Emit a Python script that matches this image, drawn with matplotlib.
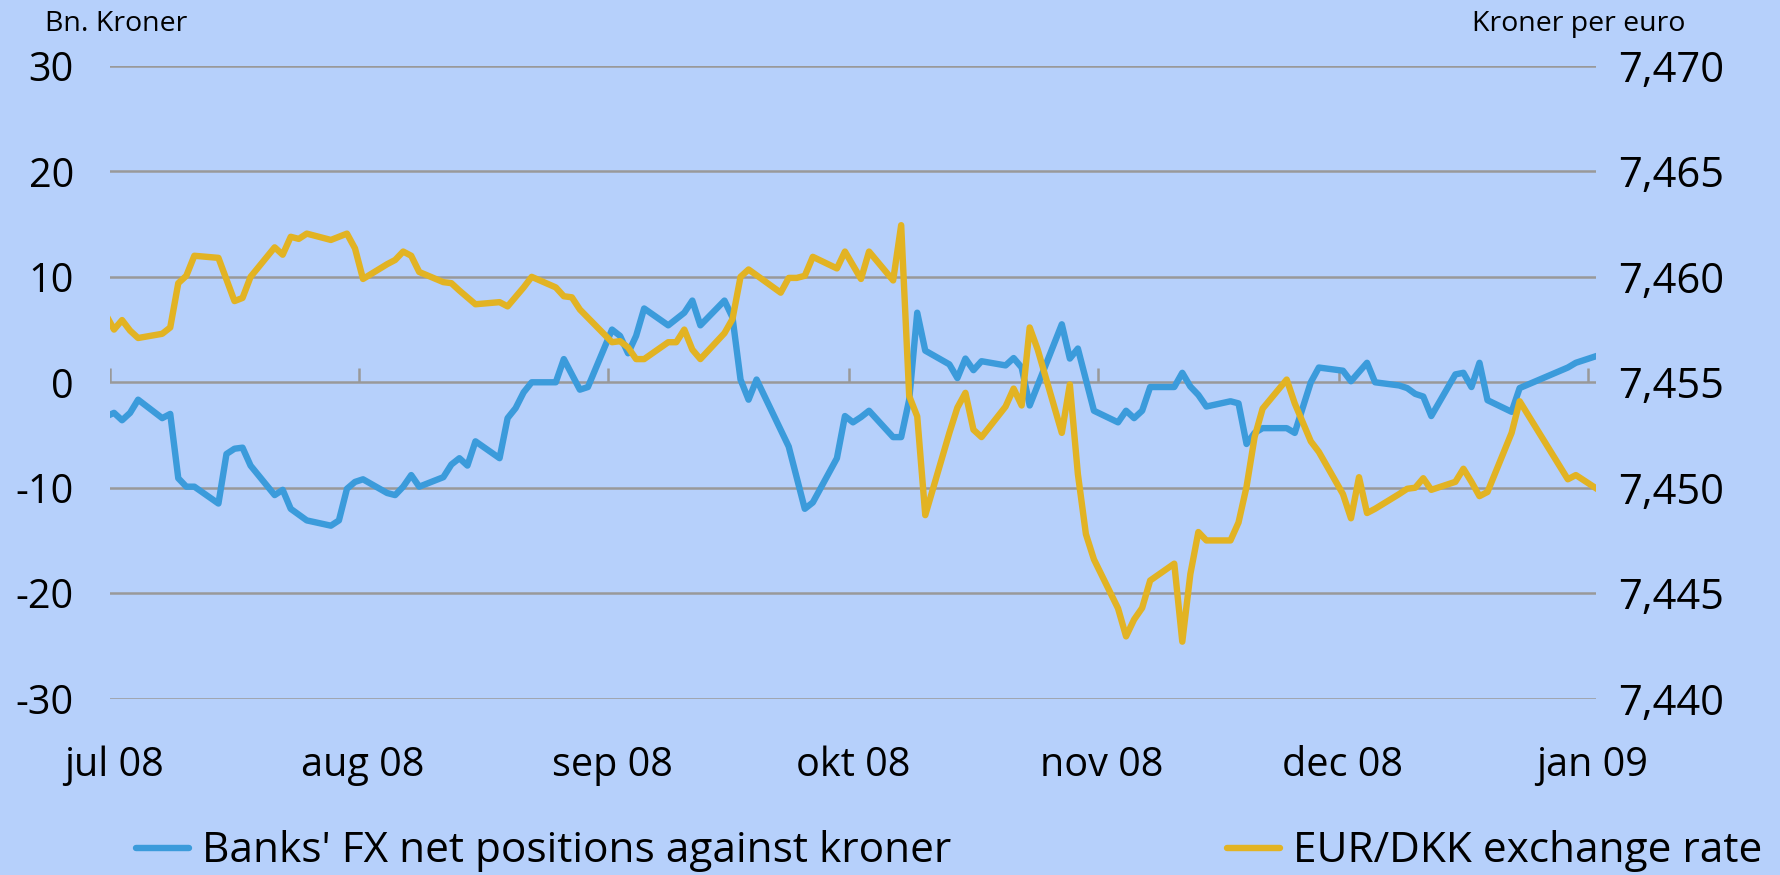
import matplotlib
matplotlib.use("Agg")
import matplotlib.pyplot as plt
from matplotlib.lines import Line2D
import pandas as pd

plt.rcParams['font.family'] = ['Open Sans', 'DejaVu Sans']

# Banks' FX net positions against kroner, bn. kroner (left axis)
pos_dates = ["2008-06-30", "2008-07-01", "2008-07-02", "2008-07-03", "2008-07-04", "2008-07-07",
             "2008-07-08", "2008-07-09", "2008-07-10", "2008-07-11", "2008-07-14", "2008-07-15",
             "2008-07-16", "2008-07-17", "2008-07-18", "2008-07-21", "2008-07-22", "2008-07-23",
             "2008-07-25", "2008-07-28", "2008-07-29", "2008-07-30", "2008-07-31", "2008-08-01",
             "2008-08-04", "2008-08-05", "2008-08-06", "2008-08-07", "2008-08-08", "2008-08-11",
             "2008-08-12", "2008-08-13", "2008-08-14", "2008-08-15", "2008-08-18", "2008-08-19",
             "2008-08-20", "2008-08-21", "2008-08-22", "2008-08-25", "2008-08-26", "2008-08-28",
             "2008-08-29", "2008-09-01", "2008-09-02", "2008-09-03", "2008-09-04", "2008-09-05",
             "2008-09-08", "2008-09-10", "2008-09-11", "2008-09-12", "2008-09-15", "2008-09-16",
             "2008-09-17", "2008-09-18", "2008-09-19", "2008-09-23", "2008-09-25", "2008-09-26",
             "2008-09-29", "2008-09-30", "2008-10-01", "2008-10-02", "2008-10-03", "2008-10-06",
             "2008-10-07", "2008-10-08", "2008-10-09", "2008-10-10", "2008-10-13", "2008-10-14",
             "2008-10-15", "2008-10-16", "2008-10-17", "2008-10-20", "2008-10-21", "2008-10-22",
             "2008-10-23", "2008-10-27", "2008-10-28", "2008-10-29", "2008-10-31", "2008-11-03",
             "2008-11-04", "2008-11-05", "2008-11-06", "2008-11-07", "2008-11-10", "2008-11-11",
             "2008-11-12", "2008-11-13", "2008-11-14", "2008-11-17", "2008-11-18", "2008-11-19",
             "2008-11-20", "2008-11-21", "2008-11-24", "2008-11-25", "2008-11-27", "2008-11-28",
             "2008-12-01", "2008-12-02", "2008-12-04", "2008-12-05", "2008-12-08", "2008-12-09",
             "2008-12-10", "2008-12-11", "2008-12-12", "2008-12-15", "2008-12-16", "2008-12-17",
             "2008-12-18", "2008-12-19", "2008-12-22", "2008-12-23", "2008-12-29", "2008-12-30",
             "2009-01-02"]
pos_values = [-3.25, -2.9, -3.6, -2.9, -1.65, -3.4,
              -3.0, -9.1, -9.9, -9.9, -11.5, -6.8,
              -6.3, -6.2, -7.9, -10.7, -10.2, -12.0,
              -13.1, -13.6, -13.1, -10.1, -9.45, -9.2,
              -10.5, -10.7, -9.9, -8.8, -9.9, -9.0,
              -7.8, -7.2, -7.9, -5.6, -7.2, -3.4,
              -2.45, -0.95, 0.0, 0.0, 2.2, -0.7,
              -0.45, 5.0, 4.4, 2.75, 4.4, 7.0,
              5.4, 6.6, 7.75, 5.4, 7.75, 6.15,
              0.26, -1.65, 0.26, -6.1, -12.0, -11.4,
              -7.2, -3.2, -3.8, -3.3, -2.7, -5.2,
              -5.2, -1.65, 6.6, 3.0, 1.7, 0.4,
              2.25, 1.15, 2.0, 1.6, 2.3, 1.4,
              -2.2, 5.5, 2.25, 3.2, -2.7, -3.8,
              -2.7, -3.4, -2.7, -0.45, -0.45, 0.9,
              -0.4, -1.2, -2.3, -1.8, -2.0, -5.85,
              -4.8, -4.35, -4.35, -4.8, 0.0, 1.4,
              1.1, 0.1, 1.85, 0.0, -0.3, -0.55,
              -1.1, -1.35, -3.2, 0.75, 0.9, -0.45,
              1.85, -1.7, -2.8, -0.55, 1.4, 1.85,
              2.6]

# EUR/DKK exchange rate, kroner per euro (right axis)
fx_dates = ["2008-06-30", "2008-07-01", "2008-07-02", "2008-07-03", "2008-07-04", "2008-07-07",
            "2008-07-08", "2008-07-09", "2008-07-10", "2008-07-11", "2008-07-14", "2008-07-16",
            "2008-07-17", "2008-07-18", "2008-07-21", "2008-07-22", "2008-07-23", "2008-07-24",
            "2008-07-25", "2008-07-28", "2008-07-30", "2008-07-31", "2008-08-01", "2008-08-04",
            "2008-08-05", "2008-08-06", "2008-08-07", "2008-08-08", "2008-08-11", "2008-08-12",
            "2008-08-13", "2008-08-15", "2008-08-18", "2008-08-19", "2008-08-21", "2008-08-22",
            "2008-08-25", "2008-08-26", "2008-08-27", "2008-08-28", "2008-09-01", "2008-09-02",
            "2008-09-03", "2008-09-04", "2008-09-05", "2008-09-08", "2008-09-09", "2008-09-10",
            "2008-09-11", "2008-09-12", "2008-09-15", "2008-09-16", "2008-09-17", "2008-09-18",
            "2008-09-22", "2008-09-23", "2008-09-24", "2008-09-25", "2008-09-26", "2008-09-29",
            "2008-09-30", "2008-10-02", "2008-10-03", "2008-10-06", "2008-10-07", "2008-10-08",
            "2008-10-09", "2008-10-10", "2008-10-13", "2008-10-14", "2008-10-15", "2008-10-16",
            "2008-10-17", "2008-10-20", "2008-10-21", "2008-10-22", "2008-10-23", "2008-10-24",
            "2008-10-27", "2008-10-28", "2008-10-29", "2008-10-30", "2008-10-31", "2008-11-03",
            "2008-11-04", "2008-11-05", "2008-11-06", "2008-11-07", "2008-11-10", "2008-11-11",
            "2008-11-12", "2008-11-13", "2008-11-14", "2008-11-17", "2008-11-18", "2008-11-19",
            "2008-11-20", "2008-11-21", "2008-11-24", "2008-11-25", "2008-11-27", "2008-11-28",
            "2008-12-01", "2008-12-02", "2008-12-03", "2008-12-04", "2008-12-05", "2008-12-08",
            "2008-12-09", "2008-12-10", "2008-12-11", "2008-12-12", "2008-12-15", "2008-12-16",
            "2008-12-17", "2008-12-18", "2008-12-19", "2008-12-22", "2008-12-23", "2008-12-29",
            "2008-12-30", "2009-01-02"]
fx_values = [7.4582, 7.4575, 7.45795, 7.45745, 7.4571, 7.4573,
             7.4576, 7.4597, 7.46005, 7.4610, 7.4609, 7.45885,
             7.4590, 7.4600, 7.4614, 7.46105, 7.4619, 7.4618,
             7.46205, 7.46175, 7.46205, 7.46135, 7.4599, 7.4606,
             7.4608, 7.4612, 7.4610, 7.46023, 7.45975, 7.4597,
             7.45935, 7.4587, 7.4588, 7.4586, 7.4595, 7.4600,
             7.4595, 7.45908, 7.45903, 7.45845, 7.4569, 7.45695,
             7.45665, 7.4561, 7.4561, 7.4569, 7.4569, 7.4575,
             7.45655, 7.4561, 7.45733, 7.4580, 7.4600, 7.46035,
             7.45925, 7.45995, 7.45995, 7.46005, 7.46095, 7.4604,
             7.4612, 7.4599, 7.4612, 7.45983, 7.46245, 7.45435,
             7.45338, 7.4487, 7.4526, 7.4538, 7.4545, 7.45275,
             7.4524, 7.45385, 7.4547, 7.4539, 7.4576, 7.45655,
             7.4526, 7.4549, 7.45065, 7.4478, 7.4466, 7.44428,
             7.44295, 7.44375, 7.4443, 7.4456, 7.4464, 7.4427,
             7.4459, 7.4479, 7.4475, 7.4475, 7.44835, 7.45005,
             7.4524, 7.45375, 7.45513, 7.4540, 7.4522, 7.4517,
             7.4497, 7.44855, 7.4505, 7.4488, 7.4490, 7.4497,
             7.44995, 7.4500, 7.45045, 7.4499, 7.45028, 7.4509,
             7.45028, 7.4496, 7.4498, 7.4526, 7.4541, 7.4504,
             7.4506, 7.44985]

month_starts = ["2008-07-01", "2008-08-01", "2008-09-01", "2008-10-01",
                "2008-11-01", "2008-12-01", "2009-01-01"]
month_labels = ["jul 08", "aug 08", "sep 08", "okt 08", "nov 08", "dec 08", "jan 09"]
left_ticks = [-30, -20, -10, 0, 10, 20, 30]
right_ticks = [7.440, 7.445, 7.450, 7.455, 7.460, 7.465, 7.470]
right_labels = ["7,440", "7,445", "7,450", "7,455", "7,460", "7,465", "7,470"]

bg = '#b6d0fb'
blue = '#3b9bdb'
yellow = '#e2b323'
grid = '#999999'
lw = 4.6

# points sit in the middle of each day, as on an Excel date axis
half_day = pd.Timedelta(hours=12)
pos_x = pd.to_datetime(pos_dates) + half_day
fx_x = pd.to_datetime(fx_dates) + half_day
months = pd.to_datetime(month_starts)

fig = plt.figure(figsize=(17.8, 8.75), dpi=100, facecolor=bg)
ax = fig.add_axes([0.0618, 0.2016, 0.8348, 0.723])
ax.set_facecolor(bg)

ax.set_ylim(-30, 30)
ax.set_yticks(left_ticks)
ax.set_yticklabels([str(t) for t in left_ticks])
ax.yaxis.grid(True, color=grid, lw=1.8)
ax.set_axisbelow(True)
ax.set_xlim(pd.Timestamp("2008-07-01"), pd.Timestamp("2009-01-02"))

# small upward tick marks on the zero line
ax.vlines(months, 0, 1.4, color=grid, lw=1.8, zorder=1)

ax.set_xticks(months + half_day)
ax.set_xticklabels(month_labels)
ax.tick_params(axis='x', length=0, pad=34, labelsize=28.5)
ax.tick_params(axis='y', length=0, pad=26, labelsize=28.5)
for s in ax.spines.values():
    s.set_visible(False)

ax.plot(pos_x, pos_values, color=blue, lw=lw, solid_joinstyle='round',
        solid_capstyle='butt', zorder=3)

ax2 = ax.twinx()
ax2.set_ylim(7.440, 7.470)
ax2.set_yticks(right_ticks)
ax2.set_yticklabels(right_labels)
ax2.tick_params(axis='y', length=0, pad=16, labelsize=30)
for s in ax2.spines.values():
    s.set_visible(False)
ax2.plot(fx_x, fx_values, color=yellow, lw=lw, solid_joinstyle='round',
         solid_capstyle='butt', zorder=3)

fig.text(0.0253, 0.973, "Bn. Kroner", fontsize=20.5, ha='left', va='center')
fig.text(0.947, 0.973, "Kroner per euro", fontsize=20.5, ha='right', va='center')

h1 = Line2D([], [], color=blue, lw=lw, solid_capstyle='round')
h2 = Line2D([], [], color=yellow, lw=lw, solid_capstyle='round')
fig.legend([h1], ["Banks' FX net positions against kroner"], loc='center left',
           bbox_to_anchor=(0.0764, 0.027), frameon=False, fontsize=30.5,
           handlelength=1.25, handletextpad=0.3, borderpad=0, borderaxespad=0)
fig.legend([h2], ["EUR/DKK exchange rate"], loc='center right',
           bbox_to_anchor=(0.99, 0.027), frameon=False, fontsize=30.5,
           handlelength=1.25, handletextpad=0.3, borderpad=0, borderaxespad=0)

fig.savefig("out.png", dpi=100, facecolor=bg)
